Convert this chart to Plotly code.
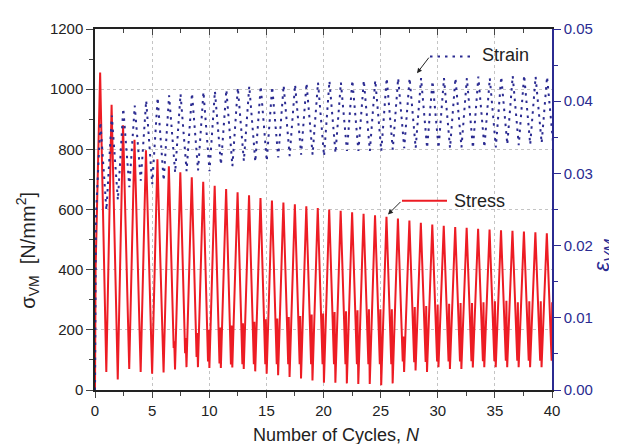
import plotly.graph_objects as go

# ---------------- data ----------------
cycle_period = 1.0025          # length of one load cycle in N
n_cycles = 40

# stress (von Mises) [N/mm2]
stress_start_N = [0.0, 0.05]
stress_start = [0, 400]
stress_peak = [1055, 948, 880, 832, 797, 767, 744, 724, 707, 692,
               679, 668, 657, 647, 638, 630, 623, 617, 611, 605,
               600, 596, 591, 586, 581, 576, 570, 563, 556, 550,
               546, 542, 539, 536, 533, 531, 529, 527, 524, 521]
stress_dip = [None, None, None, None, None, None, 140, 122, 110, 95,
              88, 85, 86, 86, 86, 86, 86, 86, 86, 86,
              86, 86, 86, 86, 86, 86, 95, 92, 93, 95,
              95, 95, 96, 96, 96, 97, 97, 97, 97, 97]
stress_spike = [None, None, None, None, None, None, 162, 173, 189, 200,
                208, 214, 222, 227, 235, 238, 243, 246, 251, 254,
                259, 262, 265, 268, 268, 268, 178, 276, 279, 284,
                287, 289, 289, 292, 295, 297, 292, 295, 295, 292]
stress_valley = [60, 35, 70, 60, 54, 58, 68, 76, 76, 73,
                 73, 75, 70, 62, 54, 49, 43, 38, 32, 24,
                 24, 22, 20, 20, 16, 22, 60, 65, 60, 76,
                 70, 70, 75, 76, 76, 76, 76, 76, 76, 76]

# strain (von Mises)
strain_start_N = [0.0, 0.08]
strain_start = [0.0, 0.024]
strain_peak = [0.0371, 0.0380, 0.0390, 0.0394, 0.0401, 0.0405, 0.0408, 0.0410, 0.0411, 0.0413,
               0.0414, 0.0416, 0.0419, 0.0421, 0.0421, 0.0420, 0.0422, 0.0423, 0.0425, 0.0426,
               0.0428, 0.0426, 0.0429, 0.0429, 0.0429, 0.0432, 0.0432, 0.0432, 0.0432, 0.0428,
               0.0432, 0.0432, 0.0432, 0.0434, 0.0432, 0.0434, 0.0435, 0.0436, 0.0434, 0.0434]
strain_valley = [0.0249, 0.0263, 0.0281, 0.0290, 0.0285, 0.0290, 0.0301, 0.0303, 0.0304, 0.0303,
                 0.0312, 0.0310, 0.0317, 0.0316, 0.0317, 0.0322, 0.0324, 0.0326, 0.0326, 0.0324,
                 0.0328, 0.0331, 0.0331, 0.0331, 0.0331, 0.0333, 0.0335, 0.0335, 0.0335, 0.0335,
                 0.0335, 0.0336, 0.0335, 0.0336, 0.0336, 0.0340, 0.0339, 0.0340, 0.0342, 0.0342]

# phase of the turning points inside one cycle
PEAK_PH, DIP_PH, SPIKE_PH, VALLEY_PH = 0.45, 0.87, 0.92, 0.99
STRAIN_PEAK_PH, STRAIN_VALLEY_PH = 0.47, 1.0

x_ticks = [0, 5, 10, 15, 20, 25, 30, 35, 40]
y_ticks = [0, 200, 400, 600, 800, 1000, 1200]
y2_ticks = [0.00, 0.01, 0.02, 0.03, 0.04, 0.05]

# ---------------- build the series ----------------
sx, sy = list(stress_start_N), list(stress_start)
ex, ey = list(strain_start_N), list(strain_start)
for k in range(n_cycles):
    base = k * cycle_period
    sx.append(base + PEAK_PH); sy.append(stress_peak[k])
    if stress_dip[k] is not None:
        sx += [base + DIP_PH, base + SPIKE_PH]
        sy += [stress_dip[k], stress_spike[k]]
    sx.append(base + VALLEY_PH); sy.append(stress_valley[k])
    ex.append(base + STRAIN_PEAK_PH); ey.append(strain_peak[k])
    ex.append(base + STRAIN_VALLEY_PH); ey.append(strain_valley[k])

RED = "rgb(237,28,36)"
NAVY = "rgb(43,43,145)"
FONT = "Liberation Sans, Arial, sans-serif"
TICK = 15

fig = go.Figure()
fig.add_trace(go.Scatter(x=sx, y=sy, mode="lines", line=dict(color=RED, width=2),
                         showlegend=False, xaxis="x", yaxis="y"))
fig.add_trace(go.Scatter(x=ex, y=ey, mode="lines",
                         line=dict(color=NAVY, width=2, dash="2.5px,5px"),
                         showlegend=False, xaxis="x", yaxis="y2"))
fig.add_trace(go.Scatter(x=[], y=[], xaxis="x3", yaxis="y", showlegend=False))

grid = dict(showgrid=True, gridcolor="#c4c4c4", griddash="dot", gridwidth=1)

# page body has an 8px margin, so the figure is 8px smaller and offset
fig.update_layout(
    width=609, height=436,
    margin=dict(l=87, r=65, t=14, b=54),
    paper_bgcolor="white", plot_bgcolor="white",
    font=dict(family=FONT, size=TICK, color="#222"),
    xaxis=dict(range=[0, 40], tickvals=x_ticks, ticks="outside", ticklen=6, tickwidth=1.3,
               showline=True, linecolor="#222", linewidth=1.5, zeroline=False,
               minor=dict(ticks="outside", ticklen=4, dtick=2.5, tick0=0, tickwidth=1.3, showgrid=False),
               tickfont=dict(size=TICK), **grid),
    xaxis3=dict(range=[0, 40], overlaying="x", side="top", anchor="y", tickvals=x_ticks,
                ticks="inside", ticklen=6, tickwidth=1.3, showticklabels=False,
                showline=True, linecolor="#222", linewidth=1.5, showgrid=False, zeroline=False,
                minor=dict(ticks="inside", ticklen=4, dtick=2.5, tick0=0, tickwidth=1.3)),
    yaxis=dict(range=[0, 1200], tickvals=y_ticks, ticks="outside", ticklen=7, tickwidth=1.3,
               showline=True, linecolor="#222", linewidth=1.5, zeroline=False,
               minor=dict(ticks="outside", ticklen=4, dtick=100, tick0=0, tickwidth=1.3, showgrid=False),
               tickfont=dict(size=TICK), **grid),
    yaxis2=dict(range=[0, 0.05], overlaying="y", side="right", tickvals=y2_ticks, tickformat=".2f",
                ticks="outside", ticklen=7, tickwidth=1.3, showline=True, linecolor=NAVY, linewidth=1.5,
                tickcolor=NAVY, tickfont=dict(size=TICK, color=NAVY), showgrid=False, zeroline=False,
                minor=dict(ticks="outside", ticklen=4, dtick=0.005, tick0=0, tickwidth=1.3, tickcolor=NAVY)),
)

def px2paper(px, py):
    """screen pixel -> paper fraction of the plot area (95..552, 22..390 on screen)"""
    return (px - 95) / 457.0, (390 - py) / 368.0

annotations = []
xt, yt = px2paper(336, 424)
annotations.append(dict(text="Number of Cycles, <i>N</i>", x=xt, y=yt, xref="paper", yref="paper",
                        xanchor="center", yanchor="top", showarrow=False, font=dict(size=18)))
xt, yt = px2paper(28, 248)
annotations.append(dict(text="σ<sub>VM</sub>  [N/mm<sup>2</sup>]", x=xt, y=yt, xref="paper", yref="paper",
                        xanchor="center", yanchor="middle", textangle=-90, showarrow=False,
                        font=dict(size=20)))
xt, yt = px2paper(603, 253)
annotations.append(dict(text="<i>ε<sub>VM</sub></i>", x=xt, y=yt, xref="paper", yref="paper",
                        xanchor="center", yanchor="middle", textangle=-90, showarrow=False,
                        font=dict(size=22, color=NAVY)))
xt, yt = px2paper(480, 49)
annotations.append(dict(text="Strain", x=xt, y=yt, xref="paper", yref="paper", xanchor="left",
                        yanchor="middle", showarrow=False, font=dict(size=18)))
xt, yt = px2paper(452, 197)
annotations.append(dict(text="Stress", x=xt, y=yt, xref="paper", yref="paper", xanchor="left",
                        yanchor="middle", showarrow=False, font=dict(size=18)))
xt, yt = px2paper(417, 67)
annotations.append(dict(text="", x=xt, y=yt, xref="paper", yref="paper", showarrow=True,
                        ax=13, ay=-17, arrowhead=2, arrowsize=1, arrowwidth=1, arrowcolor="#222"))
xt, yt = px2paper(388, 211)
annotations.append(dict(text="", x=xt, y=yt, xref="paper", yref="paper", showarrow=True,
                        ax=14, ay=-14, arrowhead=2, arrowsize=1, arrowwidth=1, arrowcolor="#222"))
fig.update_layout(annotations=annotations)

x0, y0 = px2paper(430, 50)
x1, y1 = px2paper(472, 50)
fig.add_shape(type="line", x0=x0, y0=y0, x1=x1, y1=y1, xref="paper", yref="paper",
              line=dict(color=NAVY, width=2, dash="2.5px,5px"))
x0, y0 = px2paper(402, 197)
x1, y1 = px2paper(447, 197)
fig.add_shape(type="line", x0=x0, y0=y0, x1=x1, y1=y1, xref="paper", yref="paper",
              line=dict(color=RED, width=2))

fig.write_html("out.html")
